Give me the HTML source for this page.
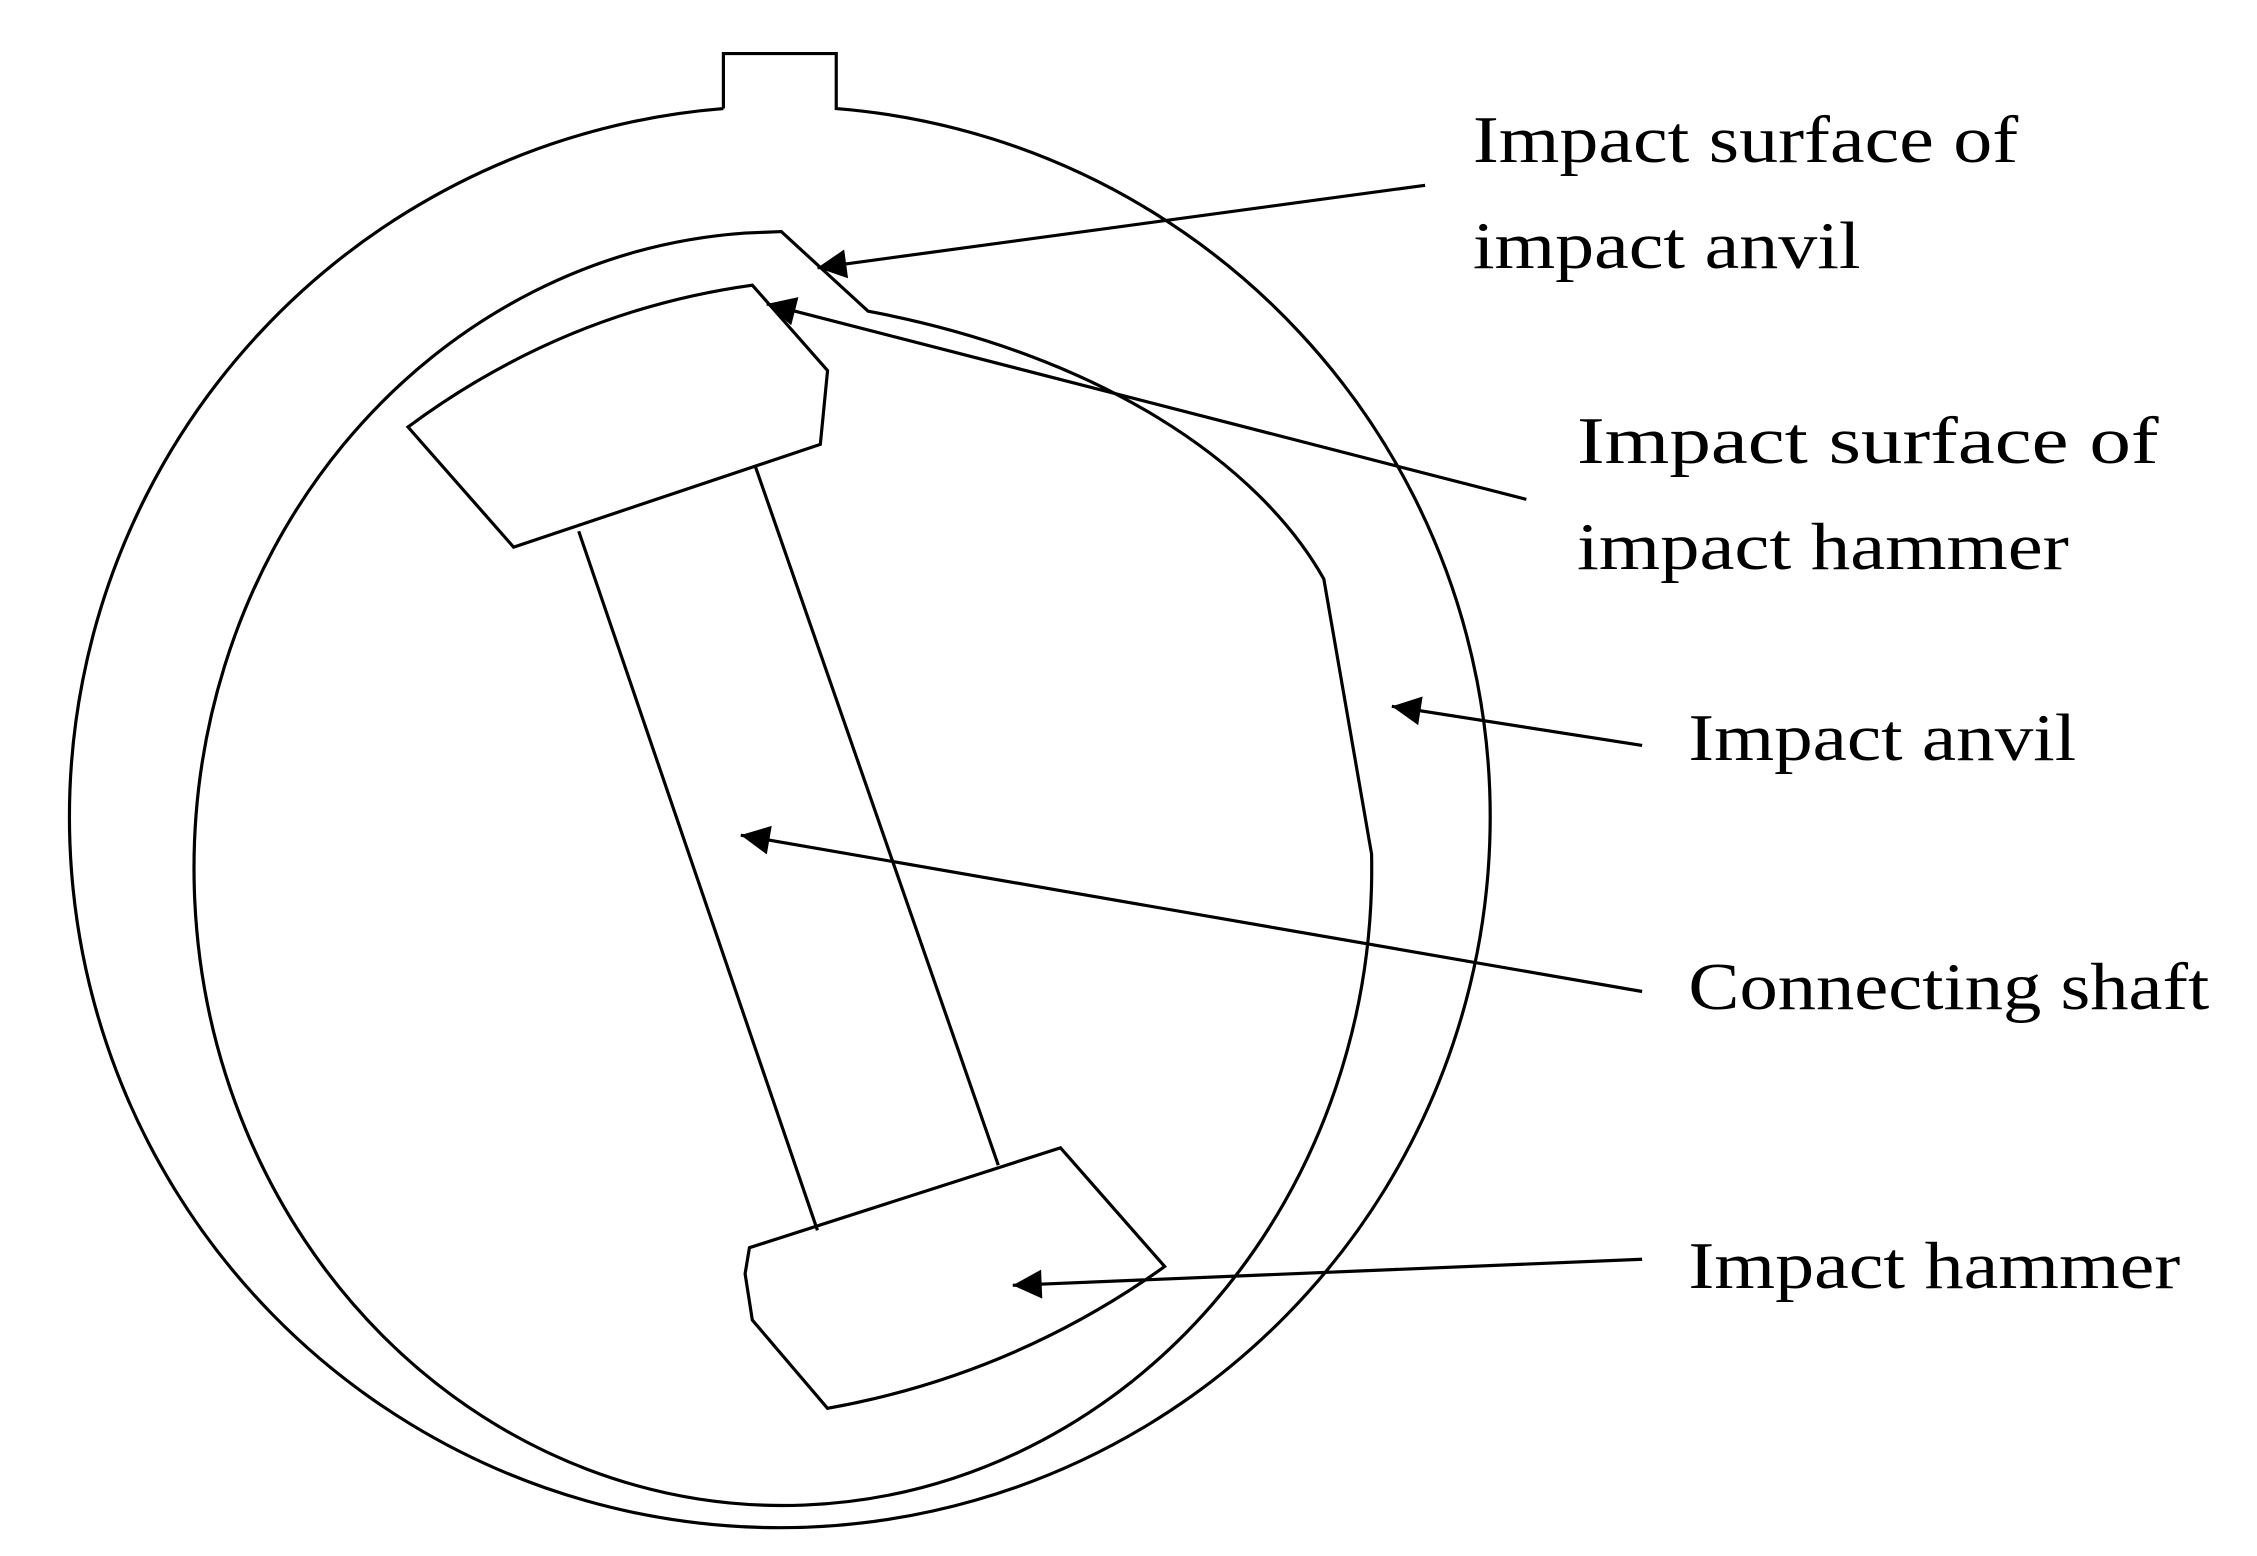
<!DOCTYPE html>
<html><head><meta charset="utf-8"><style>
html,body{margin:0;padding:0;background:#fff}
svg{display:block}
text{font-family:"Liberation Serif",serif;font-size:46px;fill:#000}
</style></head><body>
<svg width="2257" height="1556" viewBox="0 0 1560 1075" preserveAspectRatio="none" xmlns="http://www.w3.org/2000/svg">
<defs><marker id="a" viewBox="0 0 10 10" refX="10" refY="5" markerWidth="26" markerHeight="20" markerUnits="userSpaceOnUse" orient="auto"><path d="M0,0 L10,5 L0,10 z" fill="#000"/></marker></defs>
<g fill="none" stroke="#000" stroke-width="2.2">
<path d="M500,75 L500,37 L578,37 L578,75 A491,491 0 1 1 500,75"/>
<path d="M540,160 L600,215 C760,245 870,320 915,400 L948,590 A407,440 0 1 1 515,161 Z"/>
<path d="M282,295 L355,378 L567,307 L572,256 L520,197 Q390,215 282,295 Z"/>
<line x1="400" y1="367" x2="565" y2="850"/>
<line x1="522" y1="322" x2="690" y2="805"/>
<path d="M518,862 L733,793 L805,875 Q700,950 572,973 L520,912 L515,880 Z"/>
<line x1="985" y1="128" x2="565" y2="185" marker-end="url(#a)"/>
<line x1="1055" y1="345" x2="530" y2="210" marker-end="url(#a)"/>
<line x1="1135" y1="515" x2="962" y2="488" marker-end="url(#a)"/>
<line x1="1135" y1="685" x2="512" y2="577" marker-end="url(#a)"/>
<line x1="1135" y1="870" x2="700" y2="888" marker-end="url(#a)"/>
</g>
<g>
<text x="1018" y="112" textLength="377" lengthAdjust="spacingAndGlyphs">Impact surface of</text>
<text x="1018" y="185" textLength="268" lengthAdjust="spacingAndGlyphs">impact anvil</text>
<text x="1090" y="320" textLength="402" lengthAdjust="spacingAndGlyphs">Impact  surface  of</text>
<text x="1090" y="393" textLength="340" lengthAdjust="spacingAndGlyphs">impact hammer</text>
<text x="1167" y="525" textLength="268" lengthAdjust="spacingAndGlyphs">Impact anvil</text>
<text x="1167" y="697" textLength="360" lengthAdjust="spacingAndGlyphs">Connecting shaft</text>
<text x="1167" y="890" textLength="340" lengthAdjust="spacingAndGlyphs">Impact hammer</text>
</g>
</svg>
</body></html>
